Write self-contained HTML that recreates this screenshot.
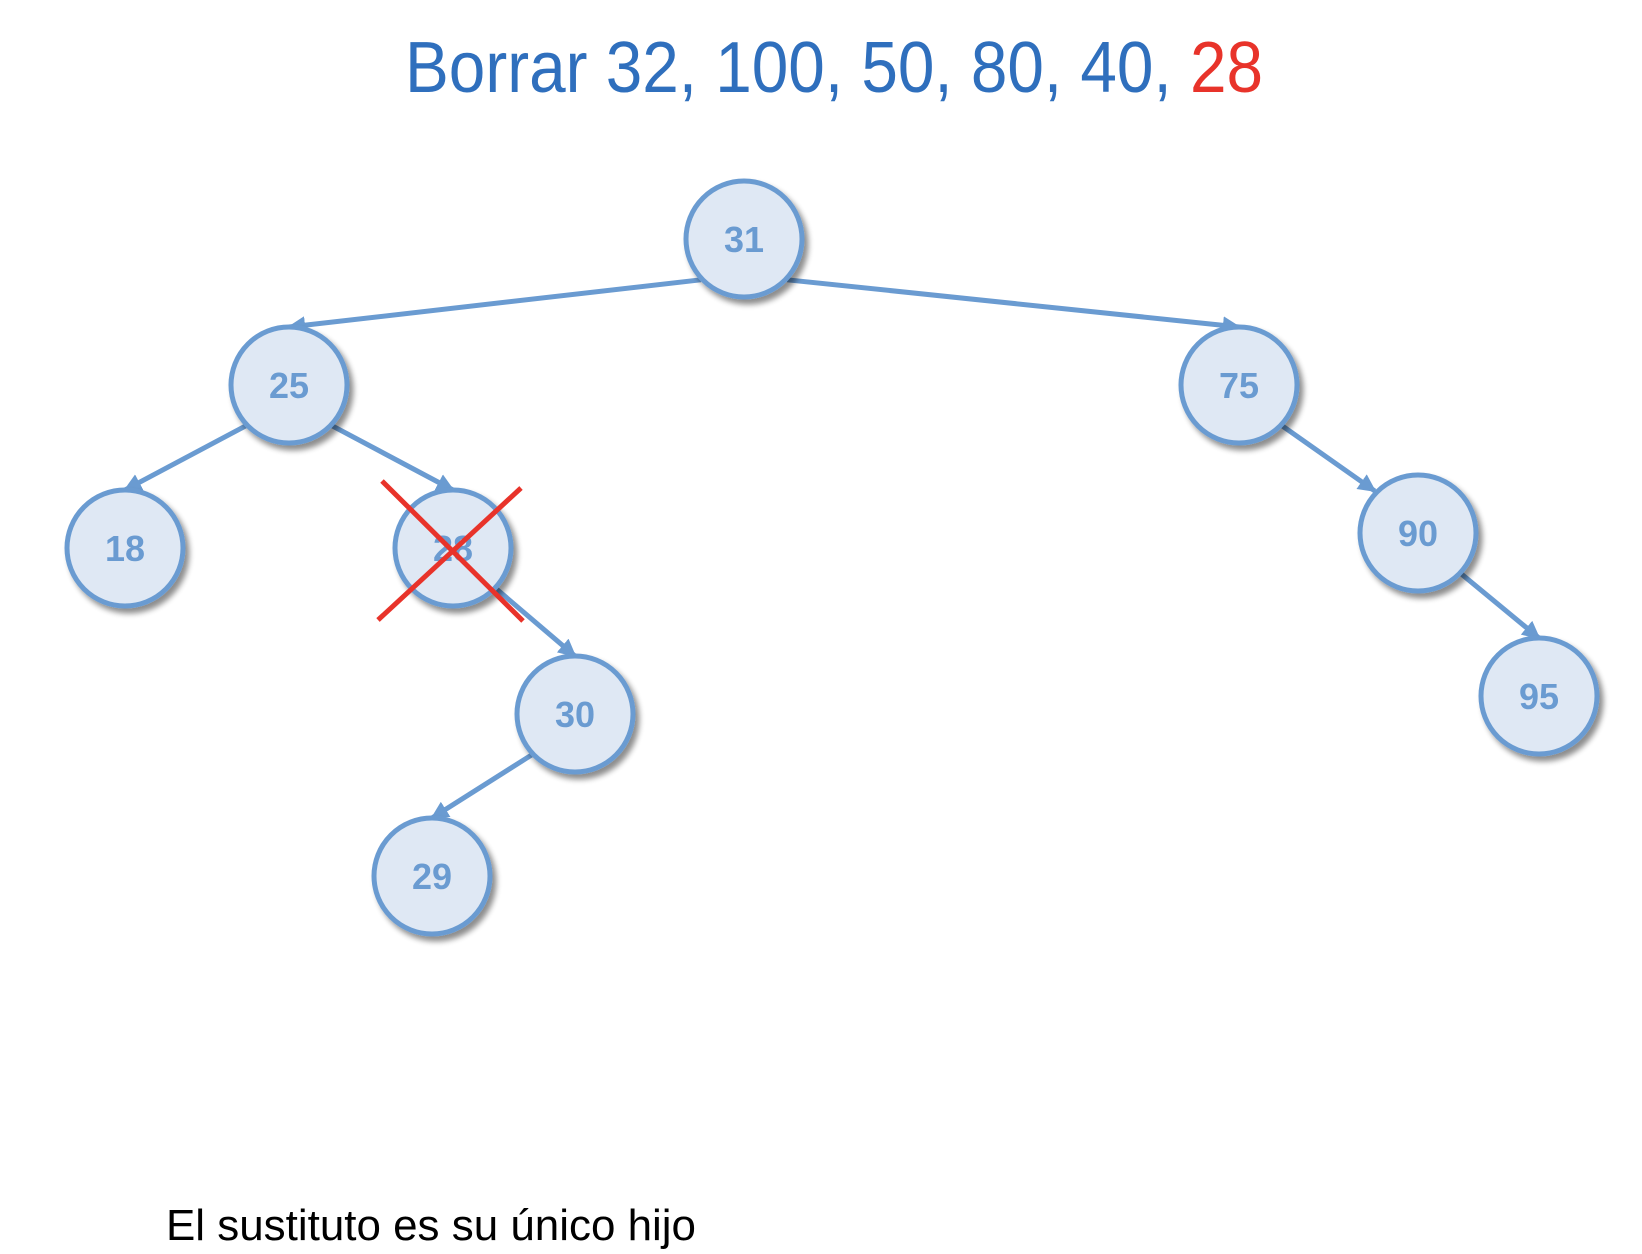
<!DOCTYPE html>
<html><head><meta charset="utf-8"><style>
html,body{margin:0;padding:0;background:#fff;}
svg{display:block;}
</style></head><body>
<svg id="chart" width="1642" height="1254" viewBox="0 0 1642 1254">
<defs>
<marker id="arr" viewBox="0 0 10 10" refX="9" refY="5" markerWidth="3.6" markerHeight="3.6" orient="auto" markerUnits="strokeWidth"><path d="M0,0 L10,5 L0,10 z" fill="#6a9bd1"/></marker>
<filter id="sh" x="-30%" y="-30%" width="160%" height="160%"><feGaussianBlur in="SourceAlpha" stdDeviation="3"/><feOffset dx="4" dy="5"/><feComponentTransfer><feFuncA type="linear" slope="0.45"/></feComponentTransfer><feMerge><feMergeNode/><feMergeNode in="SourceGraphic"/></feMerge></filter>
</defs>
<text x="834" y="92" text-anchor="middle" font-family="Liberation Sans Narrow, Liberation Sans, sans-serif" font-size="72" fill="#2f6fbd" textLength="858" lengthAdjust="spacingAndGlyphs">Borrar 32, 100, 50, 80, 40, <tspan fill="#e8332a">28</tspan></text>
<g id="edges"></g>
<g id="nodes"></g>
<line x1="382" y1="481" x2="523" y2="621" stroke="#e8332a" stroke-width="5"/>
<line x1="521" y1="488" x2="378" y2="620" stroke="#e8332a" stroke-width="5"/>
<text x="166" y="1240" font-family="Liberation Sans Narrow, Liberation Sans, sans-serif" font-size="44" fill="#000" textLength="530" lengthAdjust="spacingAndGlyphs">El sustituto es su único hijo</text>
</svg>
<script>
const labels=["31","25","75","18","28","90","30","95","29"];
const nodeX=[744,289,1239,125,453,1418,575,1539,432];
const nodeY=[239,385,385,548,548,533,714,696,876];
const edges=[[0,1],[0,2],[1,3],[1,4],[2,5],[4,6],[5,7],[6,8]];
const endDiag=[false,false,false,false,true,false,false,false];
const R=60;
const NS="http://www.w3.org/2000/svg";
const eg=document.getElementById('edges'), ng=document.getElementById('nodes');
edges.forEach(([a,b],k)=>{
  const s=nodeX[b]<nodeX[a]?-1:1;
  const l=document.createElementNS(NS,'line');
  
  
  l.setAttribute('x1',nodeX[a]+s*R*0.72);l.setAttribute('y1',nodeY[a]+R*0.68);
  if(endDiag[k]){
    l.setAttribute('x2',nodeX[b]-s*R*0.72);l.setAttribute('y2',nodeY[b]-R*0.7);
  } else {
    l.setAttribute('x2',nodeX[b]);l.setAttribute('y2',nodeY[b]-R+2);
  }
  l.setAttribute('stroke','#6a9bd1');l.setAttribute('stroke-width','5');
  l.setAttribute('marker-end','url(#arr)');
  eg.appendChild(l);
});
labels.forEach((t,i)=>{
  const g=document.createElementNS(NS,'g');
  
  
  const c=document.createElementNS(NS,'circle');
  c.setAttribute('cx',nodeX[i]);c.setAttribute('cy',nodeY[i]);c.setAttribute('r',R-2);
  c.setAttribute('fill','#dfe8f4');c.setAttribute('stroke','#6a9bd1');c.setAttribute('stroke-width','5');
  c.setAttribute('filter','url(#sh)');
  g.appendChild(c);
  const tx=document.createElementNS(NS,'text');
  tx.setAttribute('x',nodeX[i]);tx.setAttribute('y',nodeY[i]+13);
  tx.setAttribute('text-anchor','middle');tx.setAttribute('font-family','Liberation Sans, sans-serif');
  tx.setAttribute('font-weight','bold');tx.setAttribute('font-size','36');tx.setAttribute('fill','#6a9bd1');
  tx.textContent=t;
  g.appendChild(tx);
  ng.appendChild(g);
});
</script>
</body></html>
